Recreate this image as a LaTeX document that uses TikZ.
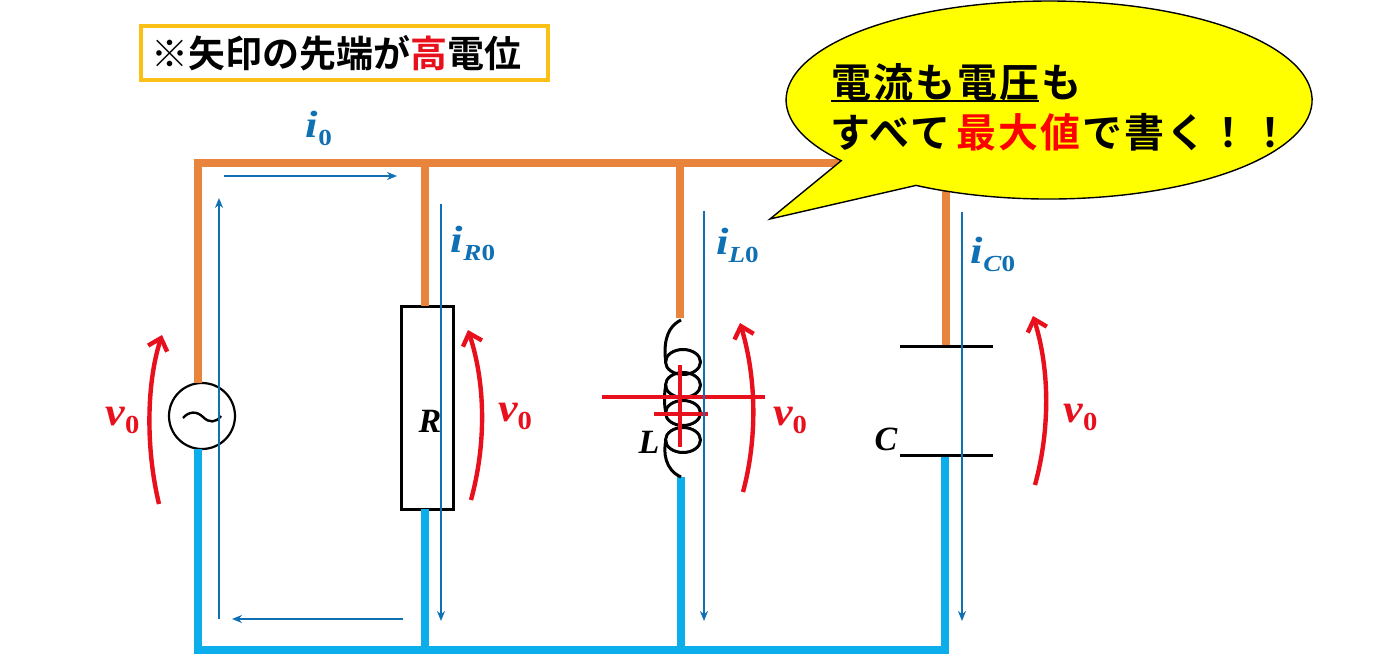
\documentclass[tikz,border=0pt]{standalone}
\usepackage{fontspec}
\usetikzlibrary{arrows.meta,calc}
\setmainfont{Liberation Serif}
\newfontfamily\jpf{Noto Sans CJK JP}[BoldFont={Noto Sans CJK JP Bold}]
\newfontfamily\jpw{Noto Sans CJK JP Bold}[LetterSpace=5]
\definecolor{wireO}{HTML}{E9843C}
\definecolor{wireB}{HTML}{0BAEEA}
\definecolor{thinB}{HTML}{1070B4}
\definecolor{redA}{HTML}{E8101C}
\definecolor{gold}{HTML}{FBC015}
\definecolor{yel}{HTML}{FFFF00}
\newcommand{\VL}[3]{{\color{#1}\fontsize{#3}{#3}\selectfont\bfseries\itshape #2}}
\newcommand{\SB}[2]{\raisebox{-8pt}{\fontsize{#1}{#1}\selectfont\upshape #2}}
\newcommand{\SBB}[2]{\raisebox{-8pt}{\fontsize{23}{23}\selectfont #1{\upshape #2}}}
\tikzset{
  x=1pt,y=1pt,
  wireo/.style={line width=7.5pt,draw=wireO},
  wireb/.style={line width=7.5pt,draw=wireB},
  thin arrow/.style={line width=1.8pt,draw=thinB,-{Stealth[length=10pt,width=8pt]}},
  red arrow/.style={line width=4.4pt,draw=redA,-{Straight Barb[length=11pt,width=20pt,line width=4.4pt]}},
  red line/.style={line width=3.2pt,draw=redA},
  coilline/.style={line width=3pt,draw=black},
  plate/.style={line width=3pt,draw=black},
  lab/.style={inner sep=0pt,outer sep=0pt},
  ilab/.style={lab,xscale=1.18},
  vlab/.style={lab,xscale=1.1},
  jp/.style={inner sep=0pt,outer sep=0pt,anchor=west,font=\jpf\bfseries},
  jpc/.style={inner sep=0pt,outer sep=0pt,anchor=west,font=\jpw}
}
\begin{document}
\begin{tikzpicture}
\useasboundingbox (0,0) rectangle (1374,-655);
\fill[white] (0,0) rectangle (1374,-655);
% positions
\coordinate (TL) at (198,-163);
\coordinate (TE) at (845,-163);
\coordinate (BL) at (198,-650);
\coordinate (BE) at (948.75,-650);
\coordinate (jR) at (425,-163);
\coordinate (jL) at (680,-163);
\coordinate (jC) at (946,-163);
\coordinate (bR) at (425,-650);
\coordinate (bL) at (681,-650);
\coordinate (bC) at (945,-650);
\coordinate (cT) at (680,-318);
\coordinate (cB) at (681,-477);
% elements
\node[draw,circle,line width=2.2pt,minimum size=66pt,inner sep=0pt,outer sep=0pt,fill=white] (src) at (202,-416) {};
\node[draw,rectangle,line width=3pt,minimum width=52pt,minimum height=203pt,inner sep=0pt,outer sep=0pt] (res) at (427,-407.5) {};
\coordinate (pl1) at (900,-346);
\coordinate (pr1) at (993,-346);
\coordinate (pl2) at (900,-455);
\coordinate (pr2) at (993,-455);
\coordinate (pT) at (946,-346);
\coordinate (pB) at (945,-455);
% wires
\draw[wireo,line join=miter] (src.north -| TL) -- (TL) -- (TE);
\draw[wireo] (jR) -- (res.north -| jR);
\draw[wireo] (jL) -- (cT);
\draw[wireo] (jC) -- (pT);
\draw[wireb] (src.south -| BL) -- (BL) -- (BE);
\draw[wireb] (res.south -| bR) -- (bR);
\draw[wireb] (cB) -- (bL);
\draw[wireb] (pB) -- (bC);
\draw[plate] (pl1) -- (pr1);
\draw[plate] (pl2) -- (pr2);
% source tilde
\draw[line width=2.4pt] (183,-418) .. controls (189,-411) and (197,-411) .. (203,-417) .. controls (209,-423) and (216,-423) .. (221,-416);
% coil
\draw[coilline] (cT) ++(1,-2) .. controls (673,-324) and (665,-332) .. (665,-352) .. controls (665,-358) and (666,-362) .. (666,-362);
\foreach \cy in {362,385,413,440} \draw[coilline] (683,-\cy) ellipse [x radius=17.5,y radius=12.5];
\draw[coilline] (666,-385) .. controls (664,-392) and (664,-406) .. (666,-413);
\draw[coilline] (666,-440) .. controls (663,-452) and (665,-470) .. (cB);
% red crossing lines
\coordinate (h1a) at (602,-397); \coordinate (h1b) at (765,-397);
\coordinate (h2a) at (654,-414); \coordinate (h2b) at (708,-414);
\coordinate (v1a) at (680,-365); \coordinate (v1b) at (680,-447);
\draw[red line] (h1a) -- (h1b);
\draw[red line] (h2a) -- (h2b);
\draw[red line] (v1a) -- (v1b);
% thin current arrows
\coordinate (a1) at (224,-176); \coordinate (a2) at (397,-176);
\coordinate (a3) at (219,-619); \coordinate (a4) at (219,-198);
\coordinate (a5) at (403,-619); \coordinate (a6) at (232,-619);
\coordinate (a7) at (441,-204); \coordinate (a8) at (441,-621);
\coordinate (a9) at (704,-211); \coordinate (a10) at (704,-621);
\coordinate (a11) at (962,-212); \coordinate (a12) at (962,-621);
\draw[thin arrow] (a1) -- (a2);
\draw[thin arrow] (a3) -- (a4);
\draw[thin arrow] (a5) -- (a6);
\draw[thin arrow] (a7) -- (a8);
\draw[thin arrow] (a9) -- (a10);
\draw[thin arrow] (a11) -- (a12);
% red voltage arrows
\coordinate (r1a) at (159,-504); \coordinate (r1b) at (162,-335);
\coordinate (r2a) at (471,-500); \coordinate (r2b) at (468,-330);
\coordinate (r3a) at (743,-492); \coordinate (r3b) at (740,-323);
\coordinate (r4a) at (1035,-485); \coordinate (r4b) at (1033,-316);
\draw[red arrow] (r1a) .. controls (146,-450) and (146,-385) .. (r1b);
\draw[red arrow] (r2a) .. controls (486,-445) and (486,-385) .. (r2b);
\draw[red arrow] (r3a) .. controls (757,-440) and (757,-380) .. (r3b);
\draw[red arrow] (r4a) .. controls (1050,-430) and (1050,-370) .. (r4b);
% callout
\coordinate (tail) at (770,-219);
\filldraw[fill=yel,draw=black,line width=1.4pt] (916,-185.4) arc [start angle=239.6,end angle=577.8,x radius=263,y radius=99] -- (tail) -- cycle;
% top box
\node[draw=gold,line width=4pt,minimum width=407pt,minimum height=54pt,inner sep=0pt,outer sep=0pt] (note) at (344.5,-53) {};
\node[jp] (noteT) at (151,-53) {\fontsize{37}{37}\selectfont ※矢印の先端が{\color{redA}高}電位};
% callout text
\node[jpc] (c1) at (831.5,-82) {\fontsize{40}{40}\selectfont 電流も電圧も};
\node[jpc] (c2) at (830.5,-132) {\fontsize{40}{40}\selectfont すべて\hspace{6pt}{\color{red}最大値}\hspace{2pt}で書く！！};
\coordinate (u1) at (831,-101); \coordinate (u2) at (1039,-101);
\draw[line width=2pt] (u1) -- (u2);
% labels
\node[ilab] (li0) at (319,-128.5) {\VL{thinB}{i\SB{23}{0}}{38}};
\node[ilab] (liR) at (473,-243.5) {\VL{thinB}{i\SBB{R}{0}}{38}};
\node[ilab] (liL) at (737.5,-245) {\VL{thinB}{i\SBB{L}{0}}{38}};
\node[ilab] (liC) at (993,-254) {\VL{thinB}{i\SBB{C}{0}}{38}};
\node[vlab] (v1) at (122.5,-420) {\VL{redA}{v\SB{26}{0}}{40}};
\node[vlab] (v2) at (515,-416.5) {\VL{redA}{v\SB{26}{0}}{40}};
\node[vlab] (v3) at (790,-420) {\VL{redA}{v\SB{26}{0}}{40}};
\node[vlab] (v4) at (1080.5,-417) {\VL{redA}{v\SB{26}{0}}{40}};
\node[lab] (lR) at (430,-421) {\VL{black}{R}{34}};
\node[lab] (lL) at (649,-442) {\VL{black}{L}{34}};
\node[lab] (lC) at (886,-439.5) {\VL{black}{C}{34}};
\end{tikzpicture}
\end{document}
